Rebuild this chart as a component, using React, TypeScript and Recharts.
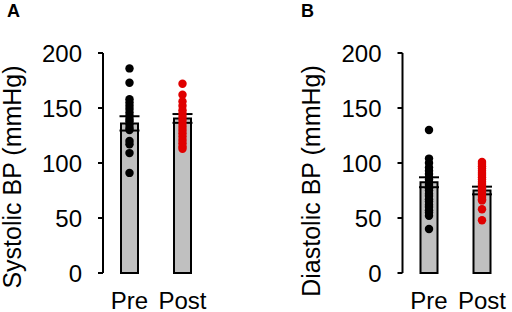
import { Bar, ComposedChart, ErrorBar, Scatter, XAxis, YAxis, ZAxis } from "recharts";

const groups = ["Pre", "Post"];

// group means and SEM
const systolicMean = [136, 140.5];
const systolicSem = [6.5, 4];
const diastolicMean = [82.5, 75];
const diastolicSem = [4.5, 3.5];

// individual subjects (dots)
const systolicPre = [186, 173, 158, 155, 152, 149, 146, 143, 140, 138, 135, 132, 130, 120, 117, 109, 91];
const systolicPost = [172, 162, 156, 152, 148, 145, 142, 139, 136, 133, 130, 127, 124, 121, 118, 115, 113];
const diastolicPre = [130, 104, 100, 96, 93, 90, 87, 85, 82, 80, 77, 75, 72, 70, 67, 65, 62, 60, 57, 55, 52, 40];
const diastolicPost = [101, 99, 97, 95, 93, 91, 89, 87, 85, 83, 81, 79, 77, 75, 73, 71, 69, 67, 66, 58, 48];

const yTicks = [0, 50, 100, 150, 200];
const edgeTicks = [0, 1, 2];

const FONT = '"Liberation Sans", Arial, Helvetica, sans-serif';

const toBars = (mean: number[], sem: number[]) =>
  groups.map((name, i) => ({ name, v: mean[i], sem: sem[i] }));

const toPoints = (name: string, values: number[]) => values.map((v) => ({ name, v }));

// panel letter + rotated axis title, drawn in chart coordinates
function PanelTitles({ letter, letterX, title, titleX, titleY }: any) {
  return (
    <g>
      <text x={letterX} y={17} fontSize={18} fontWeight="bold" fill="#000">
        {letter}
      </text>
      <text
        x={titleX}
        y={titleY}
        transform={`rotate(-90 ${titleX} ${titleY})`}
        textAnchor="middle"
        fontSize={25}
        fill="#000"
      >
        {title}
      </text>
    </g>
  );
}

function Panel({ letter, letterX, title, titleX, titleY, bars, pre, post, yAxisWidth, right }: any) {
  const axisStroke = { stroke: "#000", strokeWidth: 2 };
  const tickText = { fill: "#000", fontSize: 24 };
  return (
    <ComposedChart
      width={256}
      height={312}
      data={bars}
      margin={{ top: 53, right, bottom: 0, left: 0 }}
      style={{ fontFamily: FONT }}
    >
      <XAxis
        xAxisId="edge"
        type="number"
        domain={[0, 2]}
        ticks={edgeTicks}
        tick={false}
        height={0}
        tickSize={5}
        axisLine={axisStroke}
        tickLine={axisStroke}
      />
      <XAxis
        xAxisId="cat"
        dataKey="name"
        type="category"
        allowDuplicatedCategory={false}
        height={39}
        axisLine={false}
        tickLine={false}
        tickSize={0}
        tickMargin={19}
        fontSize={24}
        tick={tickText}
      />
      <YAxis
        type="number"
        domain={[0, 200]}
        ticks={yTicks}
        interval={0}
        width={yAxisWidth}
        tickSize={5}
        tickMargin={16}
        fontSize={24}
        axisLine={axisStroke}
        tickLine={axisStroke}
        tick={tickText}
        label={
          <PanelTitles letter={letter} letterX={letterX} title={title} titleX={titleX} titleY={titleY} />
        }
      />
      <ZAxis range={[56, 56]} />
      <Bar
        xAxisId="cat"
        dataKey="v"
        barSize={17}
        fill="#c0c0c0"
        stroke="#000"
        strokeWidth={2}
        isAnimationActive={false}
      >
        <ErrorBar dataKey="sem" direction="y" width={10} stroke="#000" strokeWidth={2} />
      </Bar>
      <Scatter xAxisId="cat" data={pre} dataKey="v" fill="#000" isAnimationActive={false} />
      <Scatter xAxisId="cat" data={post} dataKey="v" fill="#e00000" isAnimationActive={false} />
    </ComposedChart>
  );
}

export default function App() {
  return (
    <div
      style={{
        position: "absolute",
        left: 0,
        top: 0,
        width: 512,
        height: 312,
        background: "#fff",
        display: "flex",
        fontFamily: FONT,
      }}
    >
      <Panel
        letter="A"
        letterX={7}
        title="Systolic BP (mmHg)"
        titleX={21}
        titleY={177}
        bars={toBars(systolicMean, systolicSem)}
        pre={toPoints("Pre", systolicPre)}
        post={toPoints("Post", systolicPost)}
        yAxisWidth={103}
        right={47}
      />
      <Panel
        letter="B"
        letterX={45}
        title="Diastolic BP (mmHg)"
        titleX={64}
        titleY={181}
        bars={toBars(diastolicMean, diastolicSem)}
        pre={toPoints("Pre", diastolicPre)}
        post={toPoints("Post", diastolicPost)}
        yAxisWidth={146.5}
        right={3.5}
      />
    </div>
  );
}
